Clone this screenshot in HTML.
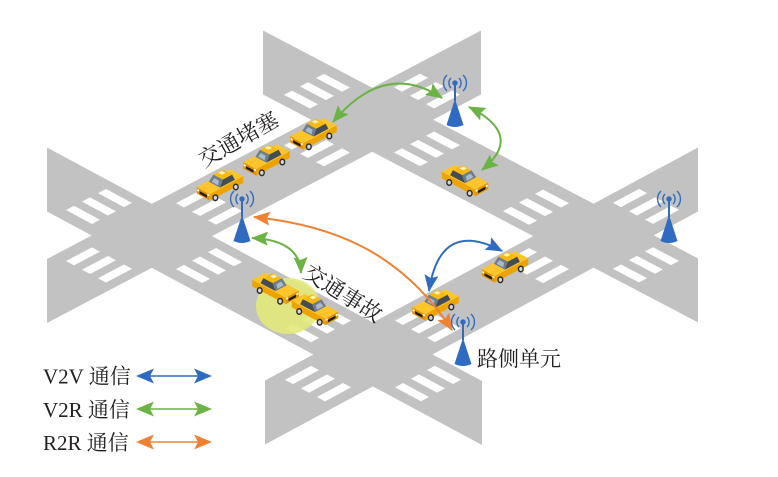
<!DOCTYPE html>
<html><head><meta charset="utf-8">
<style>
html,body{margin:0;padding:0;background:#fff;}
svg{display:block}
.t{font-family:"Liberation Serif","Noto Serif CJK SC",serif;fill:#231f20;}
</style></head>
<body>
<svg width="778" height="477" viewBox="0 0 778 477" xmlns="http://www.w3.org/2000/svg" xmlns:xlink="http://www.w3.org/1999/xlink">
<defs>
<marker id="mg" viewBox="0 0 17 14" refX="16" refY="7" markerWidth="17" markerHeight="14" markerUnits="userSpaceOnUse" orient="auto-start-reverse"><path d="M0,0 L17,7 L0,14 L3,7 Z" fill="#6bb344"/></marker>
<marker id="mo" viewBox="0 0 17 14" refX="16" refY="7" markerWidth="17" markerHeight="14" markerUnits="userSpaceOnUse" orient="auto-start-reverse"><path d="M0,0 L17,7 L0,14 L3,7 Z" fill="#ee8132"/></marker>
<marker id="mb" viewBox="0 0 17 14" refX="16" refY="7" markerWidth="17" markerHeight="14" markerUnits="userSpaceOnUse" orient="auto-start-reverse"><path d="M0,0 L17,7 L0,14 L3,7 Z" fill="#2f6cc1"/></marker>

<g id="cw" fill="#ffffff">
 <rect x="42" y="-20" width="26" height="8"/><rect x="42" y="-4" width="26" height="8"/><rect x="42" y="12" width="26" height="8"/>
 <rect x="-68" y="-20" width="26" height="8"/><rect x="-68" y="-4" width="26" height="8"/><rect x="-68" y="12" width="26" height="8"/>
 <rect x="-20" y="42" width="8" height="26"/><rect x="-4" y="42" width="8" height="26"/><rect x="12" y="42" width="8" height="26"/>
 <rect x="-20" y="-68" width="8" height="26"/><rect x="-4" y="-68" width="8" height="26"/><rect x="12" y="-68" width="8" height="26"/>
</g>

<g id="car">
 <path d="M-25,-15.8 L11,3.3 L11,10.3 L-25,-8.8Z" fill="#eda400"/>
 <path d="M11,3.3 L25,-4.2 L25,2.8 L11,10.3Z" fill="#e39200"/>
 <path d="M-25,-15.8 L11,3.3 L25,-4.2 L-11,-23.3Z" fill="#fcc52c"/>
 <path d="M-16,-12.1 L0,-3.6 L-3,-12.3 L-13,-17.6Z" fill="#434d57"/>
 <path d="M0,-3.6 L12,-10 L7,-17.6 L-3,-12.3Z" fill="#6e7d8b"/>
 <path d="M2,-6 L9,-10 L6,-14 L1,-11Z" fill="#a9bac8"/>
 <path d="M-13,-17.6 L-3,-12.3 L7,-17.6 L-3,-22.9Z" fill="#f8ba10"/>
 <path d="M-6,-19.5 L-2,-17.5 L2,-19.5 L-2,-21.5Z" fill="#fff2bd"/>
 <path d="M14,4.5 L22,0.2 L22,3 L14,7.3Z" fill="#1a1a1a"/>
 <path d="M11.5,3.8 L13.5,2.8 L13.5,4.8 L11.5,5.8Z" fill="#fff"/>
 <path d="M22.5,-1.2 L24.5,-2.2 L24.5,-0.2 L22.5,0.8Z" fill="#fff"/>
 <ellipse cx="-17" cy="-4.3" rx="3.3" ry="3.8" fill="#2b2b2b"/>
 <ellipse cx="-17" cy="-4.3" rx="1.8" ry="2.2" fill="#d6d6d6"/>
 <ellipse cx="5" cy="7.3" rx="3.3" ry="3.8" fill="#2b2b2b"/>
 <ellipse cx="5" cy="7.3" rx="1.8" ry="2.2" fill="#d6d6d6"/>
</g>

<g id="tw">
 <path d="M0,16 L-8.5,42 Q0,46 8.5,42 Z" fill="#2f6cc1"/>
 <line x1="0" y1="0" x2="0" y2="18" stroke="#2f6cc1" stroke-width="2"/>
 <circle r="2.7" fill="#2f6cc1"/>
 <g fill="none" stroke="#2f6cc1" stroke-width="1.4">
  <path d="M-4,-5 A7,7 0 0 0 -4,5"/>
  <path d="M-8,-8 A11,11 0 0 0 -8,8"/>
  <path d="M4,-5 A7,7 0 0 1 4,5"/>
  <path d="M8,-8 A11,11 0 0 1 8,8"/>
 </g>
</g>
</defs>

<!-- roads -->
<g fill="#c2c2c2">
 <polygon points="47,259 481,30.5 481,94.5 47,323"/>
 <polygon points="47,147.5 482,381 482,445 47,211.5"/>
 <polygon points="263,30.5 698,258.4 698,322.4 263,94.5"/>
 <polygon points="265,380.5 698,147.5 698,211.5 265,444.5"/>
</g>

<!-- crosswalks -->
<use xlink:href="#cw" href="#cw" transform="matrix(1,0.537,1,-0.5265,154,236)"/>
<use xlink:href="#cw" href="#cw" transform="matrix(1,0.524,1,-0.5265,372,120)"/>
<use xlink:href="#cw" href="#cw" transform="matrix(1,0.524,1,-0.538,591,236)"/>
<use xlink:href="#cw" href="#cw" transform="matrix(1,0.537,1,-0.538,373,354)"/>

<!-- accident highlight -->
<ellipse cx="288" cy="306" rx="32" ry="28" fill="#e2e97a" opacity="0.9"/>

<!-- cars -->
<use xlink:href="#car" href="#car" transform="translate(313.5,140) scale(-0.93,0.93)"/>
<use xlink:href="#car" href="#car" transform="translate(266.5,166) scale(-0.93,0.93)"/>
<use xlink:href="#car" href="#car" transform="translate(220,191) scale(-0.93,0.93)"/>
<use xlink:href="#car" href="#car" transform="translate(465,186.5) scale(0.93)"/>
<use xlink:href="#car" href="#car" transform="translate(505,273) scale(-0.93,0.93)"/>
<use xlink:href="#car" href="#car" transform="translate(275.5,294.5) scale(0.93)"/>
<use xlink:href="#car" href="#car" transform="translate(435.5,311) scale(-0.93,0.93)"/>
<use xlink:href="#car" href="#car" transform="translate(315,315.5) scale(0.93)"/>

<!-- roadside units -->
<use xlink:href="#tw" href="#tw" transform="translate(455,83)"/>
<use xlink:href="#tw" href="#tw" transform="translate(242,199)"/>
<use xlink:href="#tw" href="#tw" transform="translate(669,199)"/>
<use xlink:href="#tw" href="#tw" transform="translate(463,322)"/>

<!-- communication arrows -->
<g fill="none" stroke-width="2">
 <path d="M333,122 Q385,60 442,98" stroke="#6bb344" marker-start="url(#mg)" marker-end="url(#mg)"/>
 <path d="M469,107 Q525,135 482,170" stroke="#6bb344" marker-start="url(#mg)" marker-end="url(#mg)"/>
 <path d="M252,238 Q300,240 301,273" stroke="#6bb344" marker-start="url(#mg)" marker-end="url(#mg)"/>
 <path d="M254,217 C330,225 400,250 452,330" stroke="#ee8132" marker-start="url(#mo)" marker-end="url(#mo)"/>
 <path d="M429,291 Q440,218 502,251" stroke="#2f6cc1" marker-start="url(#mb)" marker-end="url(#mb)"/>
</g>

<!-- labels -->
<text class="t" x="238.5" y="139.5" font-size="22" text-anchor="middle" dominant-baseline="central" transform="rotate(-30 238.5 139.5)">交通堵塞</text>
<text class="t" x="343" y="293.5" font-size="22" text-anchor="middle" dominant-baseline="central" transform="rotate(32 343 293.5)">交通事故</text>
<text class="t" x="477" y="366" font-size="21">路侧单元</text>

<!-- legend -->
<text class="t" x="43" y="383.5" font-size="21">V2V 通信</text>
<text class="t" x="43" y="417" font-size="21">V2R 通信</text>
<text class="t" x="43" y="450" font-size="21">R2R 通信</text>

<g stroke-width="1.6">
 <line x1="150" y1="376" x2="198" y2="376" stroke="#2f6cc1"/>
 <line x1="150" y1="409" x2="198" y2="409" stroke="#6bb344"/>
 <line x1="150" y1="442" x2="198" y2="442" stroke="#ee8132"/>
</g>
<g>
 <path d="M136,376 L154,368.5 L150,376 L154,383.5Z M212,376 L194,368.5 L198,376 L194,383.5Z" fill="#2f6cc1"/>
 <path d="M136,409 L154,401.5 L150,409 L154,416.5Z M212,409 L194,401.5 L198,409 L194,416.5Z" fill="#6bb344"/>
 <path d="M136,442 L154,434.5 L150,442 L154,449.5Z M212,442 L194,434.5 L198,442 L194,449.5Z" fill="#ee8132"/>
</g>
</svg>
</body></html>
